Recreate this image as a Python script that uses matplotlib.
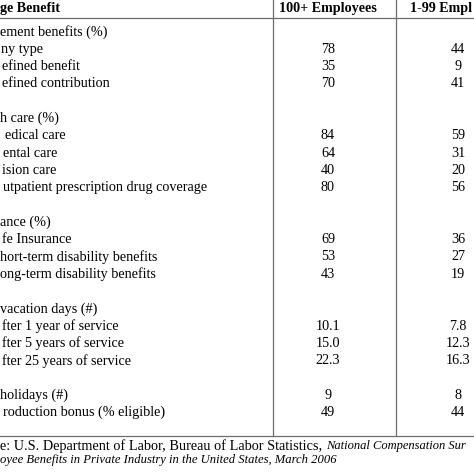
import matplotlib.pyplot as plt

# tabela de beneficios (recorte: o inicio dos rotulos fica fora da imagem)
rotulos = ['ement benefits (%)', 'ny type', 'efined benefit', 'efined contribution', '',
           'h care (%)', 'edical care', 'ental care', 'ision care',
           'utpatient prescription drug coverage', '',
           'ance (%)', 'fe Insurance', 'hort-term disability benefits',
           'ong-term disability benefits', '',
           'vacation days (#)', 'fter 1 year of service', 'fter 5 years of service',
           'fter 25 years of service', '',
           'holidays (#)', 'roduction bonus (% eligible)']
recuo = [0, 1, 2, 2, 0, 0, 5, 3, 2, 3, 0, 0, 2, 0, 0, 0, 0, 2, 2, 2, 0, 0, 3]
grandes = ['', '78', '35', '70', '', '', '84', '64', '40', '80', '', '', '69', '53', '43', '',
           '', '10.1', '15.0', '22.3', '', '9', '49']
pequenas = ['', '44', '9', '41', '', '', '59', '31', '20', '56', '', '', '36', '27', '19', '',
            '', '7.8', '12.3', '16.3', '', '8', '44']
cabecalho = ['ge Benefit', '100+ Employees', '1-99 Empl']
fonte = ['e: U.S. Department of Labor, Bureau of Labor Statistics, ',
         'National Compensation Sur',
         'oyee Benefits in Private Industry in the United States, March 2006']

plt.rcParams['font.family'] = ['Liberation Serif', 'DejaVu Serif']
fig = plt.figure(figsize=(4.74, 4.74), dpi=100)
ax = fig.add_axes([0, 0, 1, 1])
ax.set_xlim(0, 474)
ax.set_ylim(474, 0)
ax.axis('off')

tam = 10.2
cor_linha = '#6e6e6e'

# cabecalho
ax.text(0, 8, cabecalho[0], fontsize=tam, fontweight='bold', va='center', ha='left')
ax.text(328, 8, cabecalho[1], fontsize=tam, fontweight='bold', va='center', ha='center')
ax.text(410, 8, cabecalho[2], fontsize=tam, fontweight='bold', va='center', ha='left')

# linhas da tabela
ax.plot([0, 474], [18, 18], color=cor_linha, lw=0.9)
ax.plot([0, 474], [436, 436], color=cor_linha, lw=0.9)
ax.plot([273, 273], [0, 436], color=cor_linha, lw=0.9)
ax.plot([396, 396], [0, 436], color=cor_linha, lw=0.9)

for i, rot in enumerate(rotulos):
    y = 32 + 17.3 * i
    ax.text(recuo[i], y, rot, fontsize=tam, va='center', ha='left')
    ax.text(328, y, grandes[i], fontsize=tam, va='center', ha='center')
    ax.text(458, y, pequenas[i], fontsize=tam, va='center', ha='center')

# nota de fonte
t = ax.text(0, 446, fonte[0], fontsize=10.3, va='center', ha='left')
fig.canvas.draw()
bb = t.get_window_extent()
x2 = ax.transData.inverted().transform((bb.x1, 0))[0]
ax.text(x2, 446, fonte[1], fontsize=9.0, style='italic', va='center', ha='left')
ax.text(0, 460, fonte[2], fontsize=9.1, style='italic', va='center', ha='left')

fig.savefig('out.png', dpi=100)
